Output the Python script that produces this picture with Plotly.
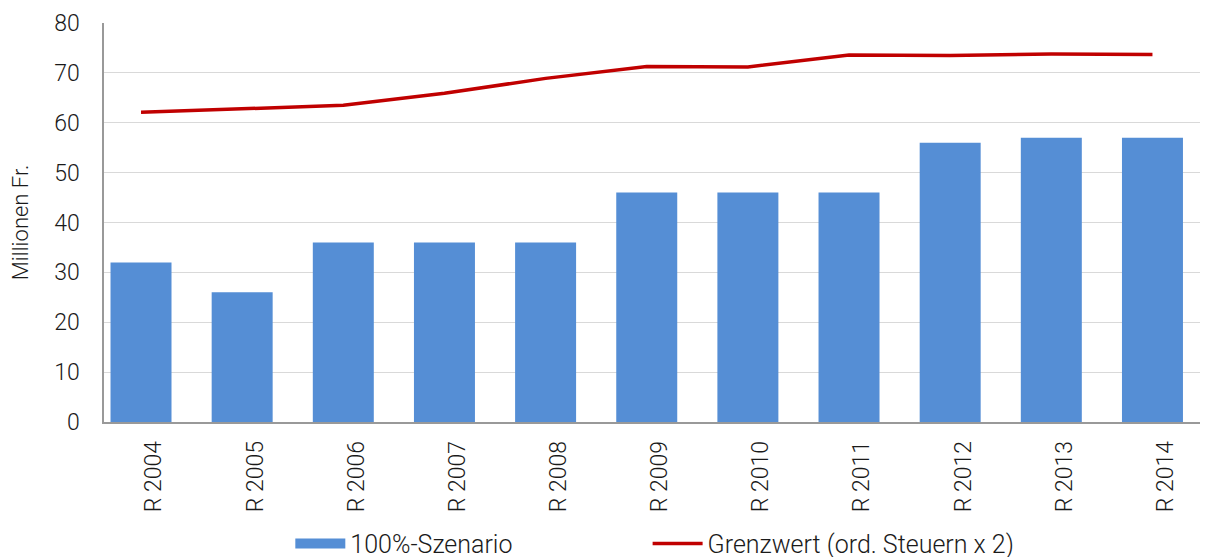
import plotly.graph_objects as go

# Data
jahre = ["R 2004", "R 2005", "R 2006", "R 2007", "R 2008", "R 2009",
         "R 2010", "R 2011", "R 2012", "R 2013", "R 2014"]
szenario_100 = [32, 26, 36, 36, 36, 46, 46, 46, 56, 57, 57]
grenzwert = [62.1, 62.8, 63.5, 65.9, 68.9, 71.3, 71.2, 73.6, 73.5, 73.8, 73.7]

font_family = "Roboto, Liberation Sans, Arial, sans-serif"
bar_color = "#558ED5"
line_color = "#C00000"

fig = go.Figure()

# Bars
fig.add_trace(go.Bar(
    name="100%-Szenario",
    x=jahre,
    y=szenario_100,
    marker_color=bar_color,
    marker_line_width=0,
    showlegend=False,
))

# legend entry with a wide rectangle like the original
fig.add_trace(go.Scatter(
    name="100%-Szenario",
    x=[None],
    y=[None],
    mode="lines",
    line=dict(color=bar_color, width=13),
    legend="legend",
))

# Threshold line
fig.add_trace(go.Scatter(
    name="Grenzwert (ord. Steuern x 2)",
    x=jahre,
    y=grenzwert,
    mode="lines",
    line=dict(color=line_color, width=3.5),
    legend="legend2",
))

legend_style = dict(
    orientation="h",
    yanchor="middle", y=-0.305,
    xanchor="left",
    font=dict(size=25, weight=300),
    itemwidth=50,
    bgcolor="rgba(0,0,0,0)",
)

fig.update_layout(
    width=1214,
    height=557,
    plot_bgcolor="white",
    paper_bgcolor="white",
    bargap=0.397,
    font=dict(family=font_family, size=23, color="#1a1a1a", weight=300),
    margin=dict(l=96, r=22, t=15, b=143, autoexpand=False),
    legend=dict(legend_style, x=0.17),
    legend2=dict(legend_style, x=0.496),
)

fig.update_xaxes(
    range=[-0.366, 10.47],
    tickangle=-90,
    showline=True,
    linecolor="#999999",
    linewidth=1.5,
    ticks="",
    ticklabelstandoff=8,
    ticklabelshift=13,
    showgrid=False,
    automargin=False,
)

fig.update_yaxes(
    range=[0, 80],
    dtick=10,
    showline=True,
    linecolor="#999999",
    linewidth=1.5,
    showgrid=True,
    gridcolor="#d9d9d9",
    gridwidth=1.2,
    zeroline=False,
    ticks="",
    ticklabelstandoff=18,
    automargin=False,
    title=dict(text="Millionen Fr.", standoff=20, font=dict(size=22)),
)

fig.write_html("out.html")
